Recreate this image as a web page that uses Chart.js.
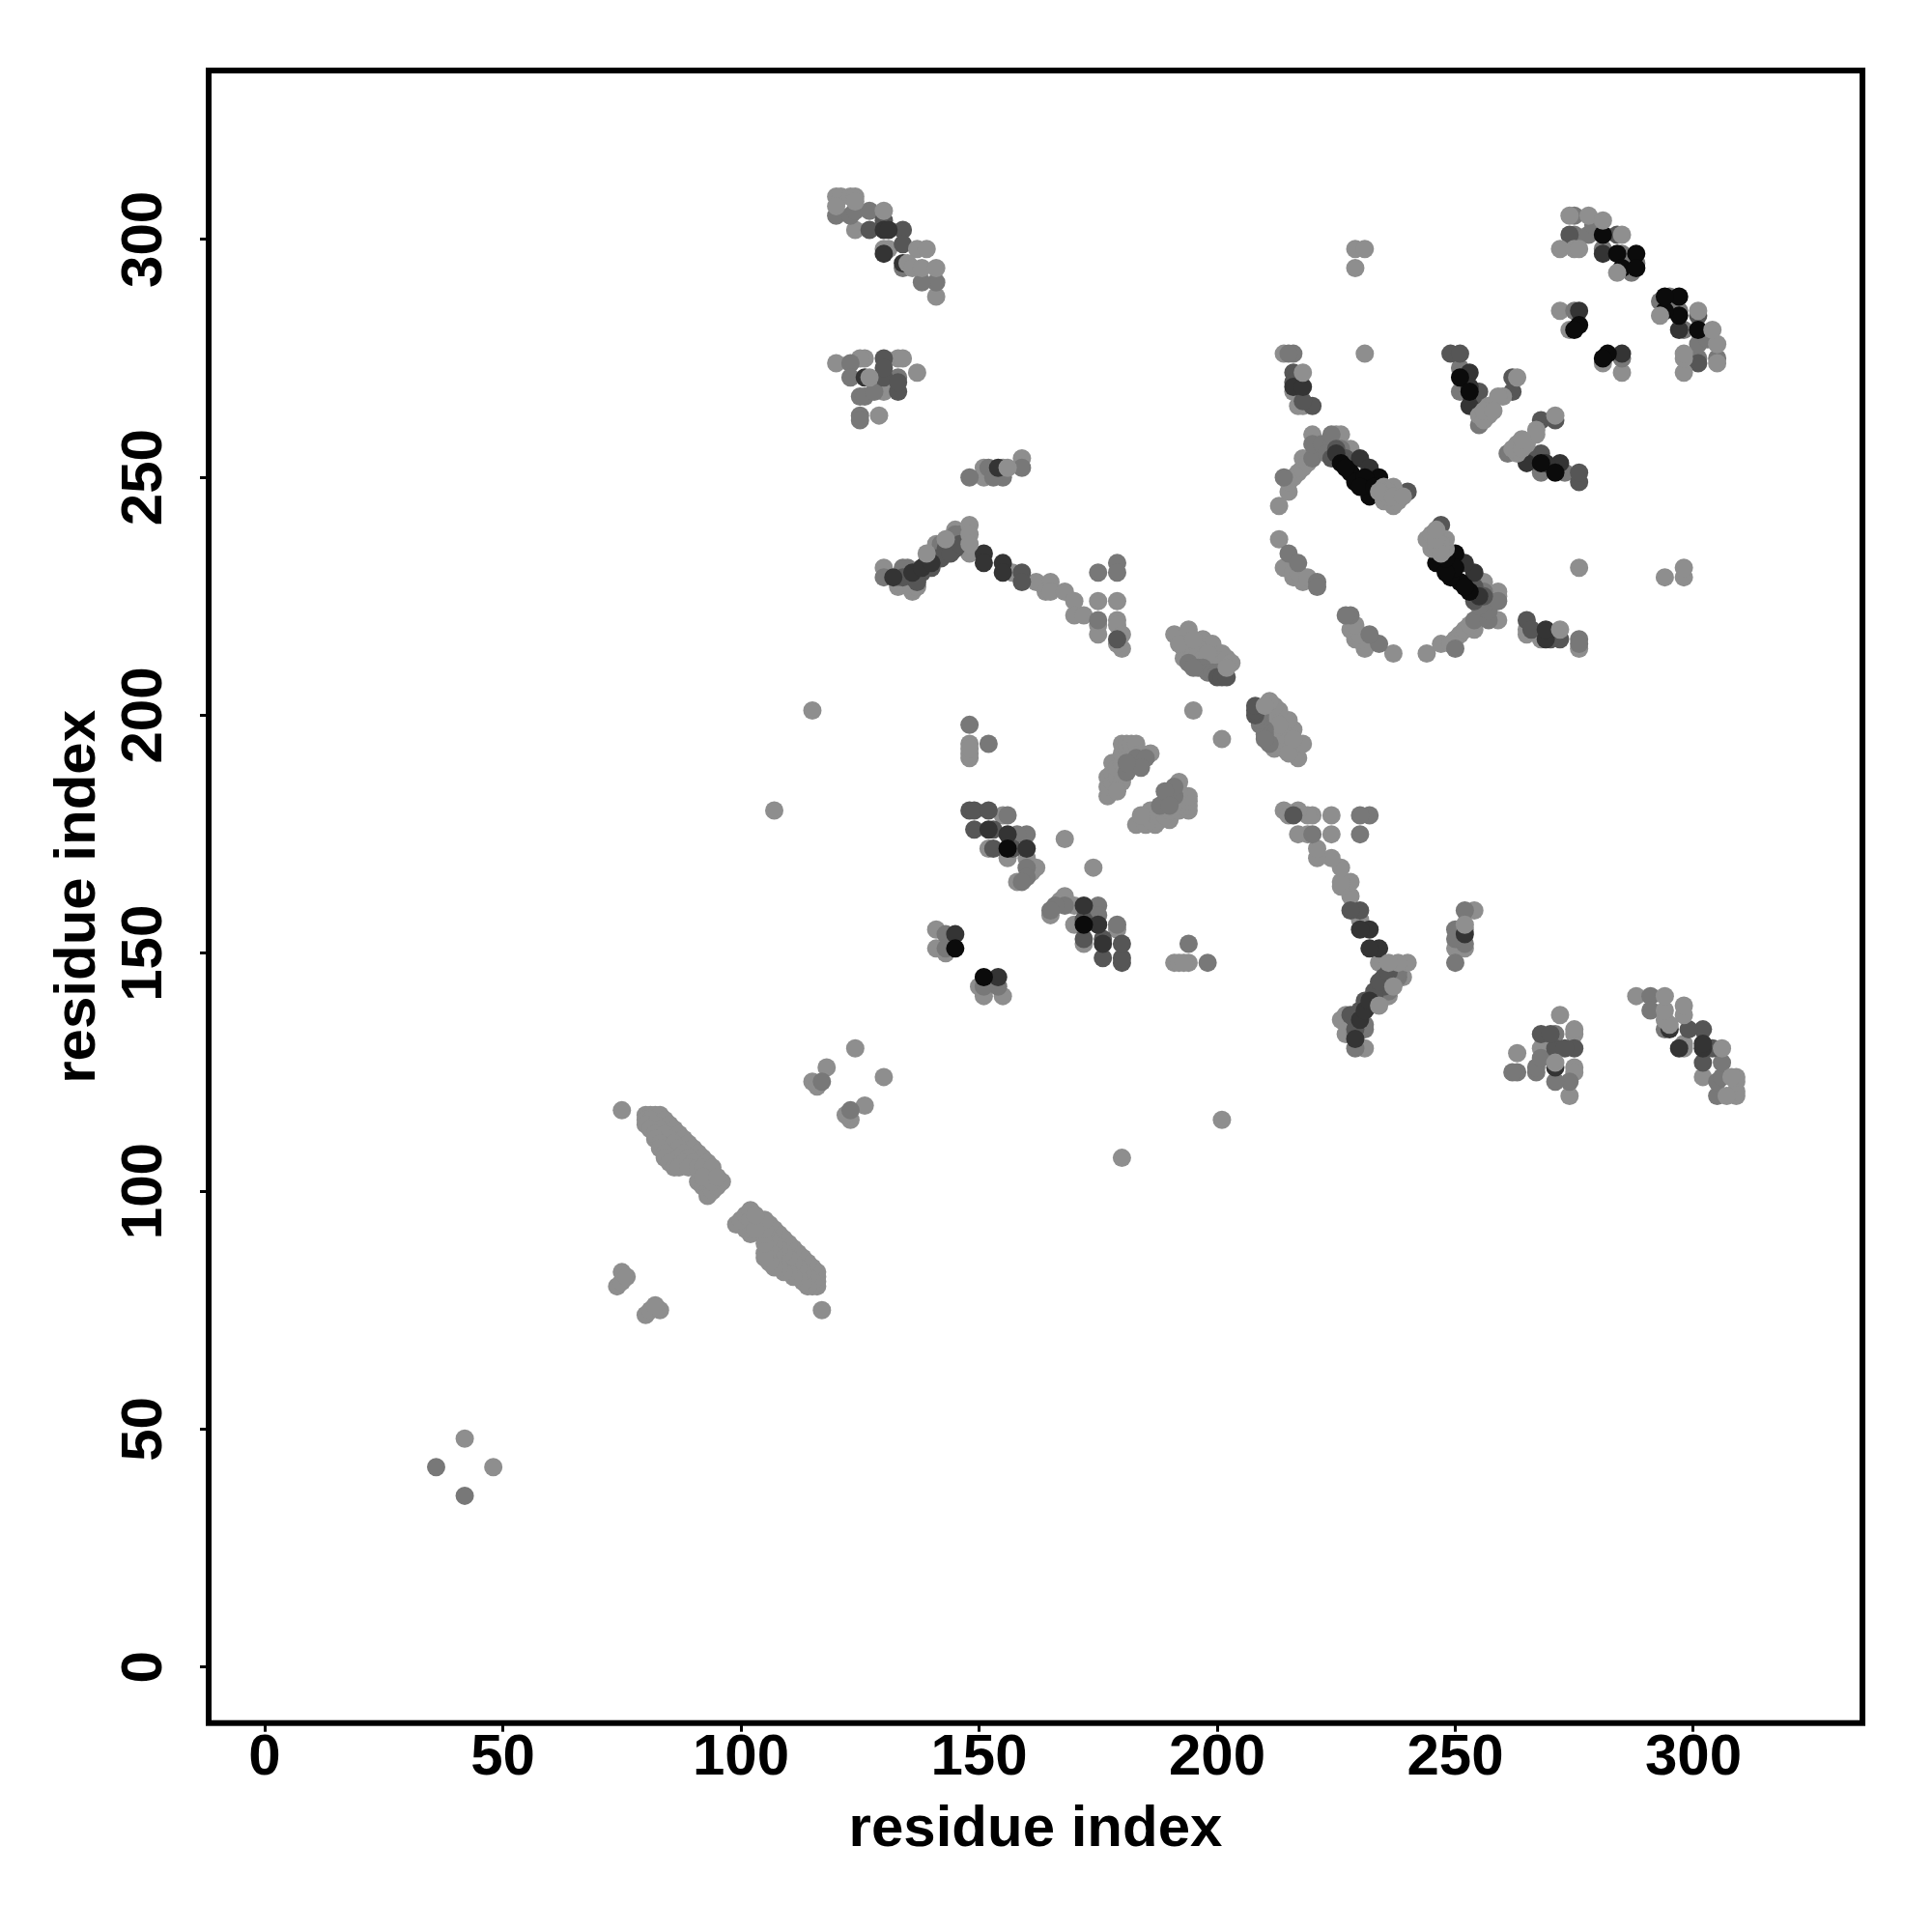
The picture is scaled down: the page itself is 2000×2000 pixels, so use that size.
<!DOCTYPE html>
<html>
<head>
<meta charset="utf-8">
<style>html,body{margin:0;padding:0;background:#fff}canvas{display:block}</style>
<script src="https://cdn.jsdelivr.net/npm/chart.js@4"></script>
</head>
<body>
<canvas id="c" width="2000" height="2000"></canvas>
<script>
// Contact map: each pair is [residue i, residue j] with i < j. The map is symmetric.
const tickValues = [0, 50, 100, 150, 200, 250, 300];
const axisTitle = "residue index";

const contactsTop = [
 [120,309],[121,309],[123,309],[124,309],[120,307],[124,308],[130,306],[137,298],[139,298],[135,295],[136,294],[138,294],[141,294],
 [127,271],[156,252],[139,234],[143,237],[148,240],[148,238],[148,236],[203,211],[202,210],
 [218,272],[257,265],[257,263],[255,263],[256,262],[263,271],[260,267],[259,267],[256,264],[258,264],
 [235,248],[237,248],[235,245],[237,244],[238,245],[236,246],[236,247],[234,247],[237,246],[239,246],
 [274,305],[278,305],[281,304],[285,301],[272,298],[275,298],[276,298],[284,293]
];
const contactsBlack = [
 [156,172],[145,151],[251,271],[253,268],[234,250],[226,253],[228,251],[229,249],[231,250],[232,246],[227,252],[230,248],[233,248],
 [281,301],[284,297],[288,297],[285,294],[288,294],[276,282],[275,281]
];
const contactsVeryDark = [
 [130,302],[131,302],[134,295],[130,297],[126,271],[154,252],[151,234],[151,232],[155,232],[155,230],[132,229],[136,230],[138,231],[140,232],
 [152,176],[156,175],[160,172],[145,154],[216,269],[218,269],[253,272],[253,265],[253,269],[230,254],[232,252],[225,255],[281,297],[276,285]
];
const contactsDark = [
 [127,302],[134,302],[134,299],[130,304],[130,275],[130,271],[130,273],[133,268],[133,270],
 [136,229],[138,230],[139,232],[141,233],[143,235],[145,235],[134,229],[140,231],[137,228],[142,233],[144,234],[146,236],[159,230],[159,228],[179,216],
 [148,180],[149,180],[152,180],[149,176],[153,176],[153,172],[157,172],[200,208],[201,208],[202,208],
 [216,272],[216,270],[220,265],[218,266],[249,276],[251,276],[255,268],[255,265],[262,268],[262,271],[224,254],[227,254],[225,256],[240,247],[284,301],[274,301]
];
const contactsMid = [
 [36,42],[117,123],[120,305],[123,305],[124,306],[127,306],[141,291],[138,291],[134,294],
 [123,274],[123,271],[133,271],[125,267],[126,267],[125,263],[125,262],[128,268],
 [148,250],[152,252],[155,250],[159,252],[153,250],
 [130,229],[134,231],[133,229],[145,238],[144,237],[175,230],[179,232],[179,230],[175,220],[142,236],[146,238],[135,231],
 [156,179],[160,175],[158,175],[160,168],[160,166],[159,165],[143,154],[143,151],[148,198],[152,194],
 [196,210],[197,210],[198,209],[199,209],[194,211],[200,209],[195,210],[181,188],[183,191],[185,191],[184,189],[181,190],
 [216,276],[215,276],[251,273],[251,268],[255,261],
 [214,250],[220,254],[220,257],[222,257],[224,257],[226,256],[224,259],[223,255],[215,234],[217,232],[221,228],[221,227],
 [275,305],[275,301],[278,301],[281,298],[285,297],[287,293],[288,295],[279,303],[275,285]
];
const contactsLight = [
 [42,48],[75,117],[74,80],[75,81],[75,83],[76,82],[115,123],[116,122],[118,126],[124,130],[107,180],[115,201],[229,294],[229,298],[231,298],[168,174],[195,201],[231,276],
 [80,116],[81,116],[82,116],[83,116],[80,115],[81,115],[84,115],[80,114],[82,114],[85,114],[81,113],[83,113],[86,113],[82,112],[84,112],[87,112],[82,111],[85,111],[88,111],[83,110],[86,110],[89,110],[83,109],[87,109],[90,109],[84,108],[88,108],[91,108],[84,107],[87,107],[89,107],[92,107],[85,106],[88,106],[90,106],[93,106],[86,105],[87,105],[89,105],[91,105],[92,105],[94,105],
 [91,102],[92,101],[93,100],[93,99],[94,100],[95,101],[96,102],[94,102],[92,103],[95,103],
 [124,302],[141,288],[130,298],[131,298],
 [120,274],[126,275],[125,275],[133,275],[134,275],[137,272],[130,268],[129,263],
 [151,252],[159,254],[151,250],[155,252],
 [133,227],[136,226],[137,227],[141,236],[148,234],[145,239],[157,230],[162,228],[165,228],[164,226],[165,226],[168,226],[170,224],[170,221],[172,221],[175,224],[179,224],[175,219],[175,217],[179,220],[179,219],[180,217],[180,214],[179,215],[130,231],
 [155,179],[152,172],[156,170],[161,167],[162,168],[158,165],[160,170],
 [141,155],[141,151],[143,150],[148,191],[148,192],[148,194],[148,193],
 [191,217],[194,218],[193,214],[197,216],[199,215],[201,213],[193,212],[195,213],[196,214],[192,215],[195,216],[197,212],[199,212],[200,211],[198,213],[202,212],
 [177,183],[177,185],[177,187],[178,186],[178,188],[178,190],[179,187],[179,189],[180,190],[180,192],[180,194],[181,193],[181,194],[182,194],[183,194],[182,190],[184,192],[186,192],[180,186],[179,184],
 [214,276],[218,265],[216,268],[217,265],
 [213,244],[215,247],[216,250],[217,251],[218,252],[218,254],[219,253],[220,259],[225,259],[226,259],[228,256],[215,249],[221,257],
 [213,237],[215,231],[214,231],[216,229],[218,228],[216,230],[217,230],[219,229],
 [272,285],[274,281]
];

const shades = {top:"#8f8f8f", black:"#0b0b0b", veryDark:"#343434", dark:"#565656", mid:"#787878", light:"#8e8e8e"};
const both = pairs => pairs.flatMap(([i,j]) => [{x:i,y:j},{x:j,y:i}]);
const layer = (label, pairs, color) => ({label, data: both(pairs), backgroundColor: color, borderWidth: 0, pointRadius: 9.5, pointHoverRadius: 9.5, showLine: false});

const FONT = "'Liberation Sans', Arial, Helvetica, sans-serif";
const framePlugin = {
  id: "frame",
  afterDraw(chart) {
    const {ctx, chartArea: a} = chart;
    ctx.save();
    ctx.lineWidth = 6;
    ctx.strokeStyle = "#000";
    ctx.strokeRect(a.left, a.top, a.right - a.left, a.bottom - a.top);
    ctx.restore();
  }
};
const axis = (size, sideProp, extraTicks, titlePadding) => ({
  type: "linear",
  min: -11.77,
  max: 335.5,
  afterBuildTicks: s => { s.ticks = tickValues.map(v => ({value: v})); },
  afterFit: s => { s[sideProp] = size; },
  border: {display: false},
  grid: {display: true, drawOnChartArea: false, drawTicks: true, tickLength: 9, tickWidth: 3, tickColor: "#000"},
  ticks: Object.assign({color: "#000", font: {family: FONT, size: 60, weight: "bold"}, autoSkip: false}, extraTicks),
  title: {display: true, text: axisTitle, color: "#000", font: {family: FONT, size: 60, weight: "bold"}, padding: titlePadding}
});

new Chart(document.getElementById("c"), {
  type: "scatter",
  data: {datasets: [
    layer("top", contactsTop, shades.top),
    layer("black", contactsBlack, shades.black),
    layer("very dark", contactsVeryDark, shades.veryDark),
    layer("dark", contactsDark, shades.dark),
    layer("mid", contactsMid, shades.mid),
    layer("light", contactsLight, shades.light)
  ]},
  plugins: [framePlugin],
  options: {
    responsive: false,
    animation: false,
    devicePixelRatio: 1,
    layout: {padding: {left: 0, top: 73, right: 72, bottom: 0}},
    plugins: {legend: {display: false}, title: {display: false}, tooltip: {enabled: false}},
    scales: {
      x: axis(216.3, "height", {padding: -8, maxRotation: 0, minRotation: 0}, {top: 0, bottom: 70}),
      y: axis(216, "width", {padding: 6, minRotation: 90, maxRotation: 90, crossAlign: "center"}, {top: 45, bottom: 0})
    }
  }
});
</script>
</body>
</html>
